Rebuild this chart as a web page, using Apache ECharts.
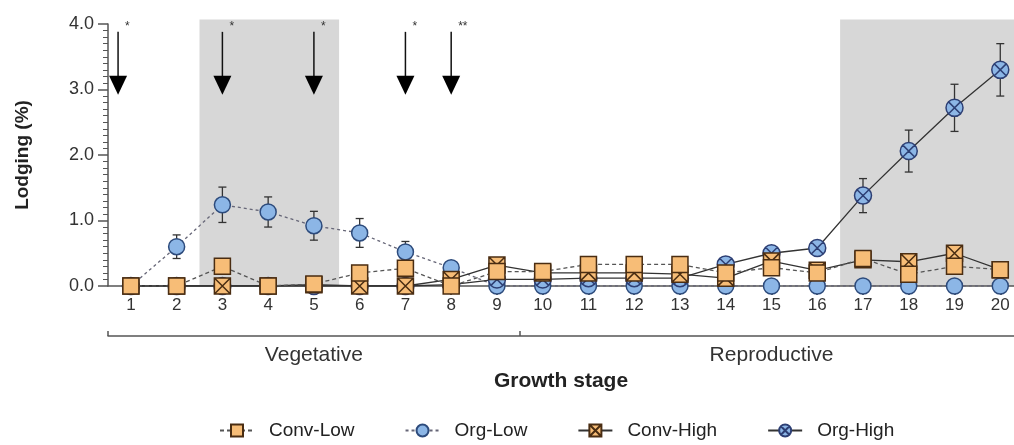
<!DOCTYPE html>
<html>
<head>
<meta charset="utf-8">
<script src="https://cdn.jsdelivr.net/npm/echarts@6/dist/echarts.min.js"></script>
<style>html,body{margin:0;padding:0;background:#fff}#c{width:1014px;height:445px}</style>
</head>
<body>
<div id="c"></div>
<script>
const stages = [1,2,3,4,5,6,7,8,9,10,11,12,13,14,15,16,17,18,19,20];
const convLow  = [0,0,0.30,0,0.03,0.20,0.27,0,0.22,0.22,0.33,0.33,0.33,0.20,0.28,0.20,0.42,0.18,0.30,0.25];
const convLowErr = [0,0,0.08,0,0.03,0.06,0.08,0,0.07,0.06,0.08,0.08,0.08,0.06,0.08,0.06,0.09,0.06,0.08,0.06];
const orgLow   = [0,0.60,1.24,1.13,0.92,0.81,0.52,0.28,0,0,0,0,0,0,0,0,0,0,0,0];
const orgLowErr = [0,0.18,0.27,0.23,0.22,0.22,0.16,0.06,0,0,0,0,0,0,0,0,0,0,0,0];
const convHigh = [0,0,0,0,0.02,0,0,0.10,0.32,0.20,0.20,0.20,0.18,0.12,0.38,0.24,0.40,0.37,0.50,0.25];
const convHighErr = [0,0,0,0,0.02,0,0,0.04,0.08,0.05,0.06,0.06,0.06,0.05,0.08,0.06,0.08,0.08,0.08,0.06];
const orgHigh  = [0,0,0,0,0,0,0,0.02,0.10,0.10,0.12,0.12,0.12,0.33,0.50,0.58,1.38,2.06,2.72,3.30];
const orgHighErr = [0,0,0,0,0,0,0,0,0.03,0.03,0.04,0.04,0.04,0.06,0.08,0.08,0.26,0.32,0.36,0.40];
const yTicks = [0,1,2,3,4];
const shadedStages = [[2.5,5.55],[16.5,20.3]];
const arrowStages = [0.72,3,5,7,8];
const arrowMarks = ['*','*','*','*','**'];
const arrowRange = [2.92,3.88];
const phaseCenters = [5,15];
const phaseNames = ['Vegetative','Reproductive'];
const phaseBounds = [0.5,9.5];
const seriesNames = ['Conv-Low','Org-Low','Conv-High','Org-High'];

const FONT = 'Arial, "Liberation Sans", sans-serif';
const chart = echarts.init(document.getElementById('c'));

const sqX = 'path://M0,0H20V20H0Z M0,0L20,20 M20,0L0,20';
const ciX = 'path://M0,10A10,10,0,1,1,20,10A10,10,0,1,1,0,10Z M3,3L17,17 M17,3L3,17';

function errSeries(vals, errs, z){
  return {
    type:'custom', z:z, silent:true, clip:false,
    data: stages.map((s,i)=>[s, vals[i], errs[i]]),
    encode:{x:0,y:1},
    renderItem:function(params, api){
      const x=api.value(0), y=api.value(1), e=api.value(2);
      if(!e) return null;
      const t=api.coord([x,y+e]), b=api.coord([x,y-e]);
      const st={stroke:'#333',lineWidth:1.3};
      return {type:'group',children:[
        {type:'line',shape:{x1:t[0],y1:t[1],x2:b[0],y2:b[1]},style:st},
        {type:'line',shape:{x1:t[0]-4,y1:t[1],x2:t[0]+4,y2:t[1]},style:st},
        {type:'line',shape:{x1:b[0]-4,y1:b[1],x2:b[0]+4,y2:b[1]},style:st}
      ]};
    }
  };
}

const option = {
  animation:false,
  textStyle:{fontFamily:FONT},
  grid:{left:108,right:0,top:24,bottom:159},
  legend:{
    data:seriesNames, left:214, top:416, itemGap:50, itemWidth:34, itemHeight:15,
    textStyle:{fontSize:19,color:'#222',fontFamily:FONT,padding:[0,0,0,10]}
  },
  xAxis:[{
    type:'value', min:0.5, max:20.3, offset:5,
    axisLine:{show:true,lineStyle:{color:'#555',width:1.5}},
    axisTick:{show:true,customValues:stages,length:9,lineStyle:{color:'#333',width:1.5}},
    axisLabel:{customValues:stages,margin:6,fontSize:17,color:'#333',fontFamily:FONT},
    splitLine:{show:false}
  },{
    type:'value', min:0.5, max:20.3, position:'bottom', offset:50,
    axisLine:{show:true,lineStyle:{color:'#555',width:1.5}},
    axisTick:{show:true,customValues:phaseBounds,inside:true,length:5,lineStyle:{color:'#555',width:1.5}},
    axisLabel:{customValues:phaseCenters,margin:9,fontSize:21,color:'#333',fontFamily:FONT,
      formatter:v=>phaseNames[phaseCenters.indexOf(v)]},
    splitLine:{show:false},
    name:'Growth stage', nameLocation:'middle', nameGap:34,
    nameTextStyle:{fontSize:21,fontWeight:'bold',color:'#222',fontFamily:FONT}
  }],
  yAxis:{
    type:'value', min:0, max:4, interval:1,
    axisLine:{show:true,lineStyle:{color:'#555',width:1.5}},
    axisTick:{show:true,length:10,lineStyle:{color:'#555',width:1.5}},
    minorTick:{show:true,splitNumber:10,length:5,lineStyle:{color:'#555',width:1}},
    axisLabel:{margin:14,fontSize:18,color:'#333',fontFamily:FONT,formatter:v=>v.toFixed(1)},
    splitLine:{show:false},
    name:'Lodging (%)', nameLocation:'middle', nameGap:76, nameRotate:90,
    nameTextStyle:{fontSize:19,fontWeight:'bold',color:'#222',fontFamily:FONT}
  },
  series:[
    {type:'custom', z:0, silent:true, clip:false,
     data:shadedStages,
     renderItem:function(params, api){
       const a=api.coord([api.value(0),4.07]), b=api.coord([api.value(1),0]);
       return {type:'rect',shape:{x:a[0],y:a[1],width:b[0]-a[0],height:b[1]-a[1]},style:{fill:'#d7d7d7'}};
     }},
    errSeries(orgLow,orgLowErr,1),
    errSeries(orgHigh,orgHighErr,1),
    errSeries(convHigh,convHighErr,1),
    errSeries(convLow,convLowErr,1),
    {name:'Org-Low', type:'line', z:3, data:stages.map((s,i)=>[s,orgLow[i]]),
     symbol:'circle', symbolSize:16,
     itemStyle:{color:'#8cb6e6',borderColor:'#2d4b7c',borderWidth:1.5},
     lineStyle:{color:'#667',width:1.3,type:[3,3]}},
    {name:'Org-High', type:'line', z:4, data:stages.map((s,i)=>[s,orgHigh[i]]),
     symbol:ciX, symbolSize:17,
     itemStyle:{color:'#8cb6e6',borderColor:'#2d3f74',borderWidth:1.5},
     lineStyle:{color:'#333',width:1.3}},
    {name:'Conv-High', type:'line', z:5, data:stages.map((s,i)=>[s,convHigh[i]]),
     symbol:sqX, symbolSize:16,
     itemStyle:{color:'#f7bd77',borderColor:'#4a2d12',borderWidth:1.5},
     lineStyle:{color:'#333',width:1.3}},
    {name:'Conv-Low', type:'line', z:6, data:stages.map((s,i)=>[s,convLow[i]]),
     symbol:'rect', symbolSize:16,
     itemStyle:{color:'#f7bd77',borderColor:'#4a2d12',borderWidth:1.5},
     lineStyle:{color:'#555',width:1.3,type:[4,3]}},
    {type:'custom', z:10, silent:true, clip:false,
     data:arrowStages.map((s,i)=>[s,i]),
     renderItem:function(params, api){
       const x=api.value(0), i=api.value(1);
       const top=api.coord([x,arrowRange[1]]), tip=api.coord([x,arrowRange[0]]);
       const lab=api.coord([x,4.0]);
       return {type:'group',children:[
         {type:'line',shape:{x1:top[0],y1:top[1],x2:tip[0],y2:tip[1]-14},style:{stroke:'#111',lineWidth:1.5}},
         {type:'polygon',shape:{points:[[tip[0]-9,tip[1]-19],[tip[0]+9,tip[1]-19],[tip[0],tip[1]]]},style:{fill:'#000'}},
         {type:'text',x:top[0]+7,y:lab[1]-3,style:{text:arrowMarks[i],fill:'#333',fontSize:12,fontFamily:FONT}}
       ]};
     }}
  ]
};
chart.setOption(option);
</script>
</body>
</html>
